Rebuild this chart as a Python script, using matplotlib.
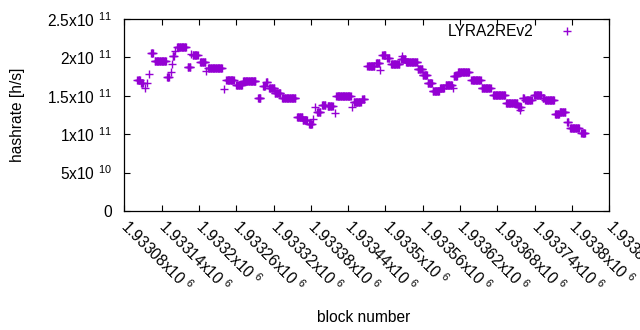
import numpy as np
import matplotlib
matplotlib.use("Agg")
import matplotlib.pyplot as plt

plt.rcParams['font.family'] = ['Liberation Sans', 'DejaVu Sans']
plt.rcParams['mathtext.fontset'] = 'custom'
plt.rcParams['mathtext.rm'] = 'Liberation Sans'
plt.rcParams['mathtext.it'] = 'Liberation Sans:italic'
plt.rcParams['mathtext.bf'] = 'Liberation Sans:bold'

FS = 11.2

# ---- data: runs of constant hashrate estimate (block start, block end, value in 1e11 h/s)
run_start = [1933101, 1933107, 1933114, 1933116, 1933120, 1933123, 1933129, 1933149,
             1933155, 1933156, 1933158, 1933162, 1933165, 1933182, 1933187, 1933190,
             1933202, 1933211, 1933215, 1933240, 1933244, 1933260, 1933271, 1933295,
             1933303, 1933308, 1933313, 1933322, 1933334, 1933358, 1933367, 1933377,
             1933383, 1933386, 1933390, 1933398, 1933407, 1933419, 1933421, 1933446,
             1933449, 1933463, 1933471, 1933485, 1933491, 1933495, 1933503, 1933509,
             1933525, 1933527, 1933528, 1933533, 1933552, 1933560, 1933568, 1933576,
             1933588, 1933597, 1933608, 1933610, 1933617, 1933638, 1933655, 1933673,
             1933694, 1933713, 1933716, 1933717, 1933721, 1933725, 1933739, 1933753,
             1933757, 1933773, 1933780, 1933792, 1933797, 1933815]
run_end = [1933105, 1933110, 1933114, 1933116, 1933120, 1933126, 1933147, 1933152,
           1933155, 1933156, 1933160, 1933162, 1933179, 1933186, 1933187, 1933198,
           1933210, 1933211, 1933237, 1933240, 1933256, 1933269, 1933291, 1933299,
           1933306, 1933310, 1933321, 1933331, 1933355, 1933366, 1933374, 1933382,
           1933383, 1933386, 1933395, 1933403, 1933415, 1933419, 1933444, 1933446,
           1933460, 1933466, 1933482, 1933490, 1933491, 1933500, 1933506, 1933522,
           1933526, 1933527, 1933532, 1933551, 1933559, 1933567, 1933575, 1933586,
           1933594, 1933607, 1933608, 1933615, 1933634, 1933653, 1933669, 1933692,
           1933712, 1933715, 1933716, 1933718, 1933723, 1933735, 1933750, 1933755,
           1933771, 1933779, 1933789, 1933794, 1933811, 1933821]
run_value = [1.70, 1.673, 1.60, 1.67, 1.78, 2.055, 1.95, 1.74,
             1.81, 1.92, 2.02, 2.08, 2.13, 1.87, 2.04, 2.03,
             1.94, 1.82, 1.866, 1.59, 1.70, 1.644, 1.687, 1.47,
             1.624, 1.68, 1.598, 1.532, 1.467, 1.228, 1.185, 1.133,
             1.194, 1.35, 1.293, 1.376, 1.363, 1.28, 1.493, 1.358,
             1.419, 1.458, 1.884, 1.927, 1.836, 2.025, 1.992, 1.91,
             1.98, 2.02, 1.98, 1.94, 1.849, 1.775, 1.667, 1.563,
             1.608, 1.647, 1.598, 1.76, 1.81, 1.71, 1.598, 1.51,
             1.402, 1.36, 1.315, 1.36, 1.475, 1.445, 1.51, 1.471,
             1.445, 1.263, 1.289, 1.159, 1.077, 1.012]

series_name = "LYRA2REv2"

x_ticks = [1933080, 1933140, 1933200, 1933260, 1933320, 1933380, 1933440,
           1933500, 1933560, 1933620, 1933680, 1933740, 1933800, 1933860]
x_tick_labels = ["1.93308x10 $^{6}$", "1.93314x10 $^{6}$", "1.9332x10 $^{6}$",
                 "1.93326x10 $^{6}$", "1.93332x10 $^{6}$", "1.93338x10 $^{6}$",
                 "1.93344x10 $^{6}$", "1.9335x10 $^{6}$", "1.93356x10 $^{6}$",
                 "1.93362x10 $^{6}$", "1.93368x10 $^{6}$", "1.93374x10 $^{6}$",
                 "1.9338x10 $^{6}$", "1.93386x10 $^{6}$"]
y_ticks = [0, 5e10, 1e11, 1.5e11, 2e11, 2.5e11]
y_tick_labels = ["0", "5x10 $^{10}$", "1x10 $^{11}$", "1.5x10 $^{11}$",
                 "2x10 $^{11}$", "2.5x10 $^{11}$"]

# expand runs into one point per block
xs = np.concatenate([np.arange(s, e + 1) for s, e in zip(run_start, run_end)])
ys = np.concatenate([np.full(e - s + 1, v * 1e11) for s, e, v in zip(run_start, run_end, run_value)])

fig = plt.figure(figsize=(6.4, 3.3), dpi=100)
W, H = 640, 330
AX_L, AX_R, AX_T, AX_B = 124.3, 609.3, 19, 211
ax = fig.add_axes([AX_L / W, 1 - AX_B / H, (AX_R - AX_L) / W, (AX_B - AX_T) / H])
aw, ah = AX_R - AX_L, AX_B - AX_T

color = '#9400d3'
ax.plot(xs, ys, linestyle='none', marker='+', markersize=6.3, markeredgewidth=1.0,
        color=color, label=series_name)

ax.set_xlim(x_ticks[0], x_ticks[-1])
ax.set_ylim(y_ticks[0], y_ticks[-1])
ax.set_xticks(x_ticks)
ax.set_xticklabels(x_tick_labels, rotation=-45, ha='left', va='center',
                   rotation_mode='anchor', fontsize=FS)
ax.set_yticks(y_ticks)
ax.set_yticklabels(y_tick_labels, fontsize=FS)

ax.tick_params(axis='both', direction='in', length=4.3, width=0.8,
               top=True, right=True, colors='black')
ax.tick_params(axis='x', pad=9)
ax.tick_params(axis='y', pad=9)
for sp in ax.spines.values():
    sp.set_linewidth(0.9)
    sp.set_color('black')

ax.set_xlabel("block number", fontsize=FS)
ax.xaxis.set_label_coords((364 - AX_L) / aw, -(310 - AX_B) / ah)
ax.set_ylabel("hashrate [h/s]", fontsize=FS)
ax.yaxis.set_label_coords(-(AX_L - 25) / aw, 0.5)

ax.legend(loc='center right', bbox_to_anchor=((597 - AX_L) / aw, (AX_B - 31.5) / ah),
          frameon=False, markerfirst=False, fontsize=FS, borderpad=0,
          borderaxespad=0, handlelength=3.8, handletextpad=0.3,
          markerscale=1.0)

fig.savefig("out.png", dpi=100)
